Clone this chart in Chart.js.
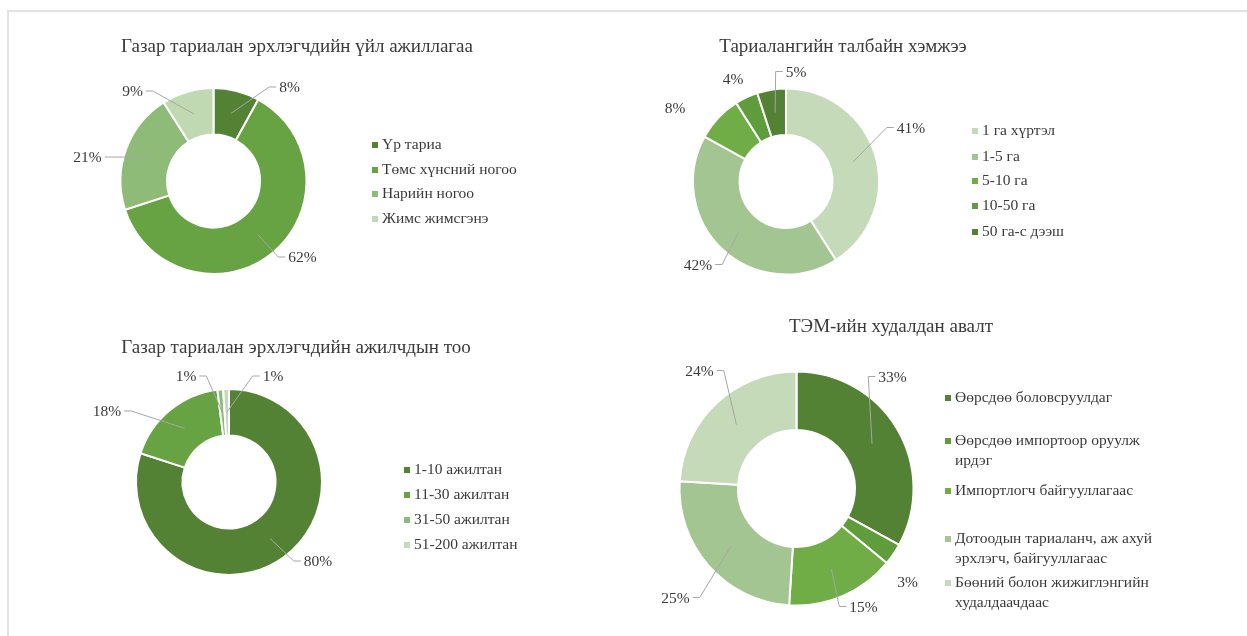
<!DOCTYPE html>
<html><head><meta charset="utf-8">
<script src="https://cdn.jsdelivr.net/npm/chart.js@4.4.0/dist/chart.umd.min.js"></script>
<style>
html,body{margin:0;padding:0;background:#fff;overflow:hidden;width:1247px;height:636px}
#frame{position:absolute;left:7px;top:10px;width:1300px;height:700px;border-top:2px solid #e2e2e2;border-left:2px solid #e2e2e2}
canvas{position:absolute;left:0;top:0}
</style></head><body>
<div id="frame"></div>
<canvas id="c1" width="1247" height="636"></canvas>
<canvas id="c2" width="1247" height="636"></canvas>
<canvas id="c3" width="1247" height="636"></canvas>
<canvas id="c4" width="1247" height="636"></canvas>
<script>
// ---- DATA ----
const activityTitle = 'Газар тариалан эрхлэгчдийн үйл ажиллагаа';
const activityCategories = ['Үр тариа', 'Төмс хүнсний ногоо', 'Нарийн ногоо', 'Жимс жимсгэнэ'];
const activityValues = [8, 62, 21, 9];

const areaTitle = 'Тариалангийн талбайн хэмжээ';
const areaCategories = ['1 га хүртэл', '1-5 га', '5-10 га', '10-50 га', '50 га-с дээш'];
const areaValues = [41, 42, 8, 4, 5];

const staffTitle = 'Газар тариалан эрхлэгчдийн ажилчдын тоо';
const staffCategories = ['1-10 ажилтан', '11-30 ажилтан', '31-50 ажилтан', '51-200 ажилтан'];
const staffValues = [80, 18, 1, 1];

const purchaseTitle = 'ТЭМ-ийн худалдан авалт';
const purchaseCategories = ['Өөрсдөө боловсруулдаг', 'Өөрсдөө импортоор оруулж ирдэг', 'Импортлогч байгууллагаас', 'Дотоодын тариаланч, аж ахуй эрхлэгч, байгууллагаас', 'Бөөний болон жижиглэнгийн худалдаачдаас'];
const purchaseValues = [33, 3, 15, 25, 24];

// ---- STYLE / LAYOUT ----
const FONT = "'Liberation Serif','Times New Roman',serif";
const TEXT = '#3a3a3a';
const W = 1247, H = 636;

const charts = [
  { id: 'c1', title: activityTitle, labels: activityCategories, values: activityValues,
    colors: ['#548235', '#68a343', '#8fbb78', '#c1d9b3'],
    cx: 213.5, cy: 181, r: 94, titlePos: [297, 47],
    legend: { x: 372, rows: [145, 170, 194, 219], wrap: 300 },
    labelPos: [[76, -93, 1], [89, 77, 1], [-126, -23, 1], [-81, -89, 1]] },
  { id: 'c2', title: areaTitle, labels: areaCategories, values: areaValues,
    colors: ['#c5dab8', '#a3c591', '#70ad47', '#5f9c3c', '#548235'],
    cx: 786, cy: 181.5, r: 94, titlePos: [843, 47],
    legend: { x: 972, rows: [131, 157, 181, 206, 232], wrap: 300 },
    labelPos: [[125, -53, 1], [-88, 84, 1], [-111, -73, 0], [-53, -102, 0], [10, -109, 1]] },
  { id: 'c3', title: staffTitle, labels: staffCategories, values: staffValues,
    colors: ['#548235', '#68a343', '#8fbb78', '#c5dab8'],
    cx: 229, cy: 482, r: 94, titlePos: [296, 348],
    legend: { x: 404, rows: [470, 495, 520, 545], wrap: 300 },
    labelPos: [[89, 80, 1], [-122, -70, 1], [-43, -105, 1], [44, -105, 1]] },
  { id: 'c4', title: purchaseTitle, labels: purchaseCategories, values: purchaseValues,
    colors: ['#548235', '#5f9c3c', '#70ad47', '#a3c591', '#c5dab8'],
    cx: 796.5, cy: 488.5, r: 118, titlePos: [891, 327],
    legend: { x: 945, rows: [398, 441, 491, 539, 583], wrap: 212 },
    labelPos: [[96, -111, 1], [111, 94, 0], [67, 119, 1], [-121, 110, 1], [-97, -117, 1]] }
];

function wrapText(ctx, text, maxW) {
  const words = text.split(' ');
  const lines = [];
  let cur = '';
  words.forEach(w => {
    const t = cur ? cur + ' ' + w : w;
    if (cur && ctx.measureText(t).width > maxW) { lines.push(cur); cur = w; }
    else cur = t;
  });
  if (cur) lines.push(cur);
  return lines;
}

const decorPlugin = {
  id: 'decor',
  afterDatasetsDraw(chart) {
    const cfg = chart.options.plugins.decor.cfg;
    const ctx = chart.ctx;
    const meta = chart.getDatasetMeta(0);
    const values = chart.data.datasets[0].data;
    const total = values.reduce((a, b) => a + b, 0);
    ctx.save();
    // data labels + leader lines
    ctx.font = '15.5px ' + FONT;
    meta.data.forEach((arc, i) => {
      const p = arc.getProps(['x', 'y', 'startAngle', 'endAngle', 'innerRadius', 'outerRadius'], true);
      const mid = (p.startAngle + p.endAngle) / 2;
      const rm = (p.innerRadius + p.outerRadius) / 2;
      const ax = p.x + Math.cos(mid) * rm;
      const ay = p.y + Math.sin(mid) * rm;
      const [dx, dy, leader] = cfg.labelPos[i];
      const lx = p.x + dx, ly = p.y + dy;
      const txt = Math.round(values[i] / total * 100) + '%';
      const tw = ctx.measureText(txt).width;
      if (leader) {
        let x1, x2;
        if (lx > ax) { x1 = lx - tw / 2 - 3; x2 = x1 - 7; }
        else { x1 = lx + tw / 2 + 3; x2 = x1 + 7; }
        ctx.strokeStyle = '#a6a6a6';
        ctx.lineWidth = 1;
        ctx.beginPath();
        ctx.moveTo(x1, ly - 1);
        ctx.lineTo(x2, ly - 1);
        ctx.lineTo(ax, ay);
        ctx.stroke();
      }
      ctx.fillStyle = TEXT;
      ctx.textAlign = 'center';
      ctx.textBaseline = 'middle';
      ctx.fillText(txt, lx, ly);
    });
    // title
    ctx.font = '19px ' + FONT;
    ctx.fillStyle = TEXT;
    ctx.textAlign = 'center';
    ctx.textBaseline = 'middle';
    ctx.fillText(cfg.title, cfg.titlePos[0], cfg.titlePos[1]);
    // legend
    ctx.font = '15.5px ' + FONT;
    ctx.textAlign = 'left';
    const colors = chart.data.datasets[0].backgroundColor;
    chart.data.labels.forEach((lab, i) => {
      const y = cfg.legend.rows[i];
      ctx.fillStyle = colors[i];
      ctx.fillRect(cfg.legend.x, y - 3, 6, 6);
      ctx.fillStyle = TEXT;
      const lines = wrapText(ctx, lab, cfg.legend.wrap);
      lines.forEach((ln, k) => ctx.fillText(ln, cfg.legend.x + 10, y + k * 20));
    });
    ctx.restore();
  }
};

charts.forEach(cfg => {
  new Chart(document.getElementById(cfg.id), {
    type: 'doughnut',
    data: {
      labels: cfg.labels,
      datasets: [{ data: cfg.values, backgroundColor: cfg.colors, borderColor: '#ffffff', borderWidth: 2 }]
    },
    options: {
      responsive: false,
      animation: false,
      events: [],
      cutout: '50%',
      layout: { padding: { left: cfg.cx - cfg.r, top: cfg.cy - cfg.r, right: W - cfg.cx - cfg.r, bottom: H - cfg.cy - cfg.r } },
      plugins: { legend: { display: false }, tooltip: { enabled: false }, decor: { cfg } }
    },
    plugins: [decorPlugin]
  });
});
</script>
</body></html>
